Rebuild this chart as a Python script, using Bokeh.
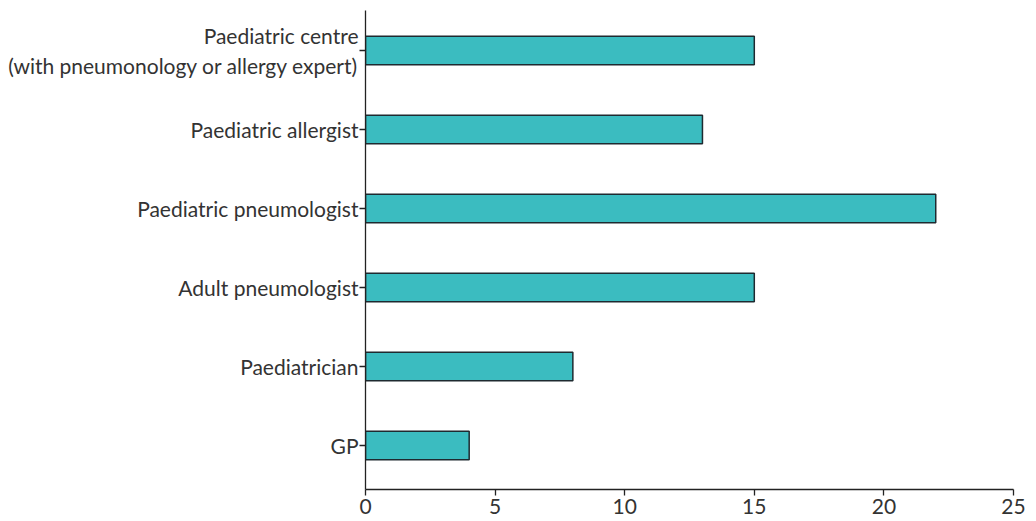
from bokeh.plotting import figure
from bokeh.models import FixedTicker, Range1d, ColumnDataSource
from bokeh.embed import file_html
from bokeh.resources import INLINE

categories = ["GP", "Paediatrician", "Adult pneumologist", "Paediatric pneumologist",
              "Paediatric allergist", "Paediatric centre\n(with pneumonology or allergy expert)"]
values = [4, 8, 15, 22, 13, 15]
x_ticks = [0, 5, 10, 15, 20, 25]

ypos = list(range(len(categories)))
src = ColumnDataSource(dict(y=ypos, v=values))

p = figure(frame_width=648, frame_height=479, output_backend="svg", toolbar_location=None,
           x_range=Range1d(0, 25), y_range=Range1d(-0.557, 5.506),
           min_border_left=365, min_border_top=10, min_border_right=15, min_border_bottom=0)
p.hbar(y="y", left=0, right="v", height=0.36, source=src,
       fill_color="#3BBCC0", line_color="#1E2A30", line_width=1.5)

p.outline_line_color = None
p.xgrid.visible = False
p.ygrid.visible = False
p.background_fill_color = "white"
p.border_fill_color = "white"

p.xaxis.ticker = FixedTicker(ticks=x_ticks)
p.yaxis.ticker = FixedTicker(ticks=ypos)
p.yaxis.major_label_overrides = {i: c for i, c in enumerate(categories)}

for ax in (p.xaxis[0], p.yaxis[0]):
    ax.axis_line_color = "#222222"
    ax.axis_line_width = 1.3
    ax.major_tick_line_color = "#222222"
    ax.major_tick_line_width = 1.3
    ax.major_tick_out = 6
    ax.major_tick_in = 0
    ax.minor_tick_line_color = None
    ax.major_label_text_font = "Lato"
    ax.major_label_text_font_size = "21px"
    ax.major_label_text_color = "#333333"
p.yaxis.major_label_standoff = 1
p.xaxis.major_label_standoff = 3

open("out.html", "w").write(file_html(p, INLINE))
